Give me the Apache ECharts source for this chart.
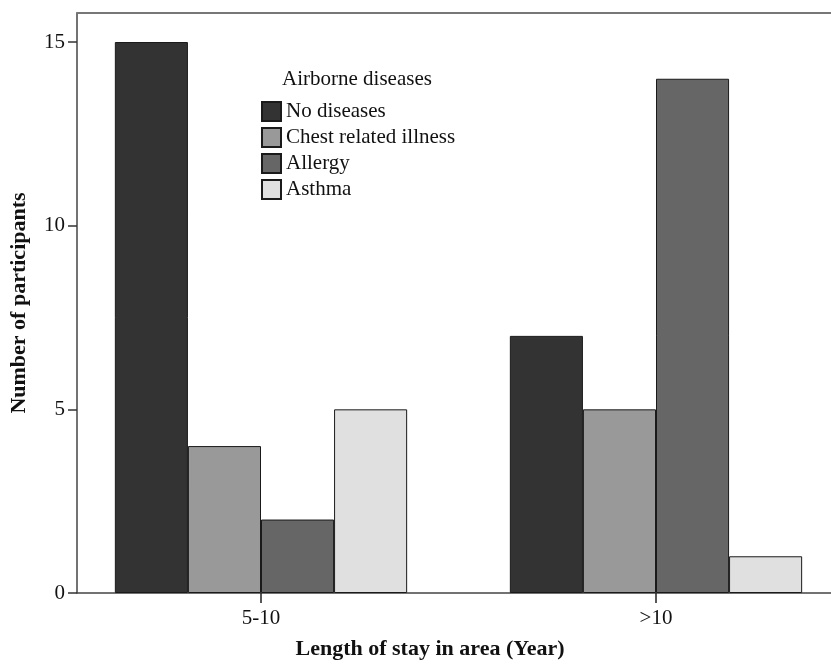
<!DOCTYPE html>
<html>
<head>
<meta charset="utf-8">
<script src="https://cdn.jsdelivr.net/npm/echarts@6/dist/echarts.min.js"></script>
<style>html,body{margin:0;padding:0;background:#fff;}#c{width:831px;height:666px;}</style>
</head>
<body>
<div id="c"></div>
<script>
const categories = ['5-10', '>10'];
const seriesNames = ['No diseases', 'Chest related illness', 'Allergy', 'Asthma'];
const noDiseases = [15, 7];
const chestIllness = [4, 5];
const allergy = [2, 14];
const asthma = [5, 1];
const yTicks = [0, 5, 10, 15];

const colors = ['#333333', '#999999', '#666666', '#e0e0e0'];
const values = [noDiseases, chestIllness, allergy, asthma];
const FONT = '"Liberation Serif", "Times New Roman", serif';
const YMAX = 15.79;

const chart = echarts.init(document.getElementById('c'));
chart.setOption({
  animation: false,
  backgroundColor: '#ffffff',
  title: {
    text: 'Airborne diseases',
    left: 277, top: 64,
    textStyle: { fontFamily: FONT, fontSize: 21, fontWeight: 'normal', color: '#111' }
  },
  legend: {
    orient: 'vertical',
    left: 256, top: 96,
    itemWidth: 19, itemHeight: 19, itemGap: 5,
    icon: 'rect',
    data: seriesNames,
    textStyle: { fontFamily: FONT, fontSize: 21, color: '#111' }
  },
  grid: [
    { left: 77, top: 13, width: 800, height: 580, outerBoundsMode: 'none', containLabel: false },
    { left: 63.5, top: 13, width: 790, height: 580, outerBoundsMode: 'none', containLabel: false }
  ],
  xAxis: [
    { gridIndex: 0, type: 'value', min: 0, max: 1, position: 'bottom',
      axisLine: { show: true, lineStyle: { color: '#444', width: 1.5 } },
      axisTick: { show: false }, axisLabel: { show: false }, splitLine: { show: false } },
    { gridIndex: 0, type: 'value', min: 0, max: 1, position: 'top',
      axisLine: { show: true, lineStyle: { color: '#777', width: 2 } },
      axisTick: { show: false }, axisLabel: { show: false }, splitLine: { show: false } },
    { gridIndex: 1, type: 'category', data: categories, position: 'bottom',
      axisLine: { show: false },
      axisTick: { show: true, alignWithLabel: true, length: 10, lineStyle: { color: '#222', width: 1.5 } },
      axisLabel: { margin: 15, fontFamily: FONT, fontSize: 21, color: '#111' },
      name: 'Length of stay in area (Year)',
      nameLocation: 'middle', nameGap: 45,
      nameTextStyle: { fontFamily: FONT, fontSize: 22, fontWeight: 'bold', color: '#111', padding: [0, 57, 0, 0] } }
  ],
  yAxis: [
    { gridIndex: 0, type: 'value', min: 0, max: YMAX, interval: 5,
      axisLine: { show: true, lineStyle: { color: '#444', width: 1.5 } },
      axisTick: { show: true, length: 9, customValues: yTicks, lineStyle: { color: '#333', width: 1.5 } },
      axisLabel: { margin: 12, customValues: yTicks, fontFamily: FONT, fontSize: 21, color: '#111' },
      splitLine: { show: false },
      name: 'Number of participants',
      nameLocation: 'middle', nameGap: 47, nameRotate: 90,
      nameTextStyle: { fontFamily: FONT, fontSize: 22, fontWeight: 'bold', color: '#111' } },
    { gridIndex: 1, type: 'value', min: 0, max: YMAX, show: false, splitLine: { show: false } }
  ],
  series: seriesNames.map((n, i) => ({
    name: n,
    type: 'bar',
    xAxisIndex: 2, yAxisIndex: 1,
    data: values[i],
    barGap: '0%',
    barCategoryGap: '26%',
    itemStyle: { color: colors[i], borderColor: '#1a1a1a', borderWidth: 1 }
  }))
});
</script>
</body>
</html>
